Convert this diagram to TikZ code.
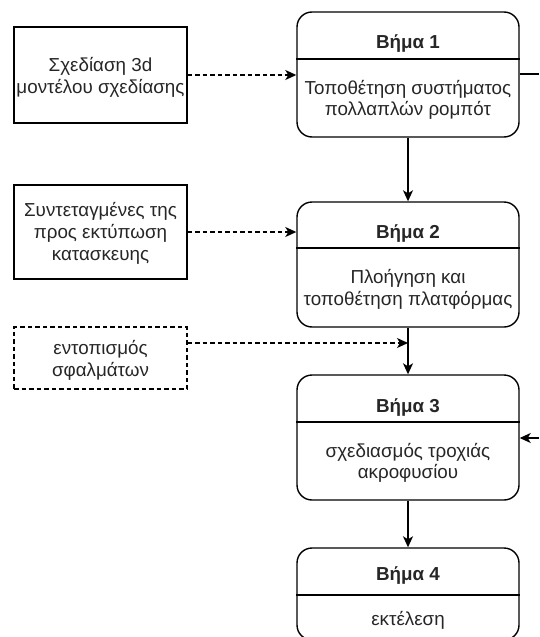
\documentclass[tikz,border=0pt]{standalone}
\usepackage{fontspec}
\setmainfont{Liberation Sans}
\usetikzlibrary{arrows.meta}
\begin{document}
\begin{tikzpicture}[x=1pt,y=-1pt,
  line width=1.4pt,
  stepbox/.style={draw, rounded corners=15pt, minimum width=222pt, inner sep=0pt},
  srcbox/.style={draw, minimum width=173pt, inner sep=0pt},
  txt/.style={anchor=base, inner sep=0pt, font=\fontsize{18.8}{22}\selectfont, text=black!85},
  head/.style={txt, font=\fontsize{18.8}{22}\selectfont\bfseries},
  arr/.style={-{Stealth[length=11pt,width=10pt,inset=3pt]}},
  dsh/.style={dash pattern=on 4.5pt off 3pt},
]
\useasboundingbox (0,0) rectangle (539,637);
\clip (0,0) rectangle (539,637);

% step boxes
\node[stepbox, minimum height=125pt] (s1) at (408,74.5) {};
\draw (s1.west |- 0,59) -- (s1.east |- 0,59);
\node[head] (h1) at (408,48) {Βήμα 1};
\node[txt] (b1a) at (408,94) {Τοποθέτηση συστήματος};
\node[txt] (b1b) at (408,115) {πολλαπλών ρομπότ};

\node[stepbox, minimum height=125pt] (s2) at (408,264.5) {};
\draw (s2.west |- 0,248) -- (s2.east |- 0,248);
\node[head] (h2) at (408,238) {Βήμα 2};
\node[txt] (b2a) at (408,283) {Πλοήγηση και};
\node[txt] (b2b) at (408,305) {τοποθέτηση πλατφόρμας};

\node[stepbox, minimum height=125pt] (s3) at (408,437.5) {};
\draw (s3.west |- 0,422) -- (s3.east |- 0,422);
\node[head] (h3) at (408,412) {Βήμα 3};
\node[txt] (b3a) at (408,457) {σχεδιασμός τροχιάς};
\node[txt] (b3b) at (408,478) {ακροφυσίου};

\node[stepbox, minimum height=92pt] (s4) at (408,594) {};
\draw (s4.west |- 0,595) -- (s4.east |- 0,595);
\node[head] (h4) at (408,580) {Βήμα 4};
\node[txt] (b4a) at (408,625) {εκτέλεση};

% source boxes
\node[srcbox, minimum height=96pt] (l1) at (100.5,75) {};
\node[txt] (l1a) at (100.5,71.5) {Σχεδίαση 3d};
\node[txt] (l1b) at (100.5,93.5) {μοντέλου σχεδίασης};

\node[srcbox, minimum height=94pt] (l2) at (100.5,232) {};
\node[txt] (l2a) at (100.5,216) {Συντεταγμένες της};
\node[txt] (l2b) at (100.5,238) {προς εκτύπωση};
\node[txt] (l2c) at (100.5,260) {κατασκευης};

\node[srcbox, dsh, minimum height=62pt] (l3) at (100.5,358) {};
\node[txt] (l3a) at (100.5,354) {εντοπισμός};
\node[txt] (l3b) at (100.5,376) {σφαλμάτων};

% connectors
\draw[arr, dsh] (l1.east) -- (l1.east -| s1.west);
\draw[arr] (s1.south) -- (s2.north);
\draw[arr, dsh] (l2.east) -- (l2.east -| s2.west);
\coordinate (j) at (408,343);
\draw[arr] (s2.south) -- (s3.north);
\draw[arr, dsh] (l3.east |- j) -- (j);
\draw[arr] (s3.south) -- (s4.north);
\coordinate (r1) at (539,74);
\draw (s1.east |- r1) -- (r1);
\coordinate (r3) at (539,438);
\draw[arr] (r3) -- (r3 -| s3.east);
\end{tikzpicture}
\end{document}
